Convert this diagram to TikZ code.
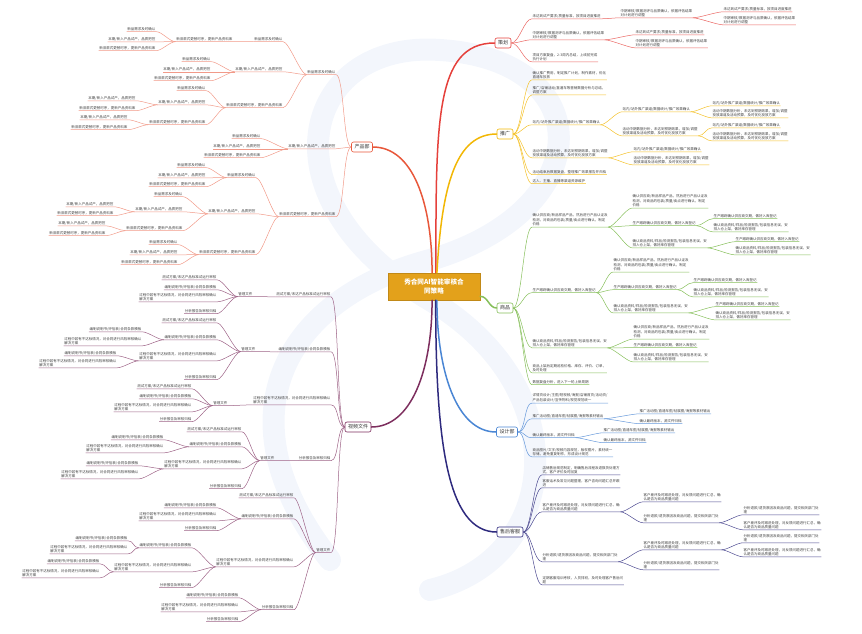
\documentclass[tikz,border=0pt]{standalone}
\usepackage{fontspec}
\setmainfont{Noto Sans CJK SC}
\definecolor{rootgold}{HTML}{E3A11B}
\definecolor{planred}{HTML}{E5403B}
\definecolor{promoyellow}{HTML}{F2B705}
\definecolor{goodsgreen}{HTML}{86BF5A}
\definecolor{designblue}{HTML}{4A86D4}
\definecolor{servicenavy}{HTML}{2E2A7E}
\definecolor{prodred}{HTML}{E8573A}
\definecolor{videoplum}{HTML}{7D2E5E}
\definecolor{wmblue}{HTML}{F3F6FC}
\tikzstyle{root}=[fill=rootgold,draw=rootgold!85!black,text=white,font=\fontsize{6.6}{8.4}\selectfont\bfseries,align=center,minimum width=92pt,minimum height=27pt,inner sep=2pt]
\tikzstyle{topic}=[rounded corners=2pt,fill=white,font=\fontsize{5}{6}\selectfont,text=black!80,inner xsep=3pt,inner ysep=2pt,minimum height=10pt,line width=0.6pt]
\tikzstyle{leaf}=[font=\fontsize{3.5}{4.4}\selectfont,text=black!75,align=left,inner xsep=0.5pt,inner ysep=0.8pt]
\tikzstyle{rleaf}=[leaf,anchor=west]
\tikzstyle{lleaf}=[leaf,anchor=east]
\tikzstyle{mainline}=[line width=1.5pt,line cap=round]
\tikzstyle{planline}=[draw=planred!80,line width=0.5pt]
\tikzstyle{promoline}=[draw=promoyellow!85,line width=0.5pt]
\tikzstyle{goodsline}=[draw=goodsgreen,line width=0.5pt]
\tikzstyle{designline}=[draw=designblue!85,line width=0.5pt]
\tikzstyle{serviceline}=[draw=servicenavy!85,line width=0.5pt]
\tikzstyle{prodline}=[draw=prodred!60,line width=0.5pt]
\tikzstyle{videoline}=[draw=videoplum!75,line width=0.5pt]
\tikzstyle{wm}=[draw=wmblue,line width=22pt,line cap=round]

\begin{document}
\begin{tikzpicture}[x=1pt,y=-1pt]
    \useasboundingbox (0,0) rectangle (862,633);
    % watermark
    \draw[wm] (330,560) .. controls (220,420) and (280,300) .. (430,260) .. controls (600,210) and (600,60) .. (440,50) .. controls (300,40) and (260,200) .. (430,300) .. controls (580,390) and (560,560) .. (430,590);

    \node[root] (root) at (434,286.5) {秀合同AI智能审核合\\同策略};
    \node[topic,draw=planred] (plan) at (503,43) {策划};
    \node[topic,draw=promoyellow] (promo) at (505,134) {推广};
    \node[topic,draw=goodsgreen] (goods) at (505,308) {商品};
    \node[topic,draw=designblue] (design) at (507,432) {设计部};
    \node[topic,draw=servicenavy] (service) at (510,532) {售后客服};
    \node[topic,draw=prodred] (prod) at (362,147) {产品部};
    \node[topic,draw=videoplum] (video) at (358,427) {视频文件};

    \draw[mainline,planred] (root.82) .. controls +(0,-150) and +(-60,0) .. (plan.west);
    \draw[mainline,promoyellow] (root.78) .. controls +(5,-90) and +(-40,0) .. (promo.west);
    \draw[mainline,prodred] (root.98) .. controls +(0,-70) and +(40,0) .. (prod.east);
    \draw[mainline,goodsgreen] (root.-12) .. controls +(8,0) and +(-8,0) .. (goods.west);
    \draw[mainline,designblue] (root.-78) .. controls +(0,70) and +(-40,0) .. (design.west);
    \draw[mainline,servicenavy] (root.-83) .. controls +(0,140) and +(-50,0) .. (service.west);
    \draw[mainline,videoplum] (root.-98) .. controls +(0,70) and +(40,0) .. (video.east);

    % 策划
    \node[rleaf] (plan1) at (532,16) {未达到试产要求/质量标准，按项目进度推进};
    \node[rleaf] (plan11) at (620,13) {中期审核/数据测评与品质确认，依据评估结果\\对计划进行调整};
    \node[rleaf] (plan111) at (723,9) {未达到试产要求/质量标准，按项目进度推进};
    \node[rleaf] (plan112) at (723,20) {中期审核/数据测评与品质确认，依据评估结果\\对计划进行调整};
    \node[rleaf] (plan2) at (532,35) {中期审核/数据测评与品质确认，依据评估结果\\对计划进行调整};
    \node[rleaf] (plan21) at (635,32) {未达到试产要求/质量标准，按项目进度推进};
    \node[rleaf] (plan22) at (635,43) {中期审核/数据测评与品质确认，依据评估结果\\对计划进行调整};
    \node[rleaf] (plan3) at (532,57) {项目方案复盘，2-3周内总结，上线前完成\\执行计划};

    % 推广
    \node[rleaf] (promo1) at (532,75) {确认推广费用，制定推广计划，制作素材，优化\\直通车投放};
    \node[rleaf] (promo2) at (532,90) {推广/店铺活动/直通车等营销数据分析与总结，\\调整方案};
    \node[rleaf] (promo3) at (532,122) {站内/站外推广渠道/数据统计/推广效果确认};
    \node[rleaf] (promo31) at (622,109) {站内/站外推广渠道/数据统计/推广效果确认};
    \node[rleaf] (promo311) at (712,103) {站内/站外推广渠道/数据统计/推广效果确认};
    \node[rleaf] (promo312) at (712,113) {活动中期数据分析，未达到预期效果，增加/调整\\投放渠道及活动预算，及时优化投放方案};
    \node[rleaf] (promo32) at (622,131) {活动中期数据分析，未达到预期效果，增加/调整\\投放渠道及活动预算，及时优化投放方案};
    \node[rleaf] (promo321) at (712,125) {站内/站外推广渠道/数据统计/推广效果确认};
    \node[rleaf] (promo322) at (712,136) {活动中期数据分析，未达到预期效果，增加/调整\\投放渠道及活动预算，及时优化投放方案};
    \node[rleaf] (promo4) at (532,153) {活动中期数据分析，未达到预期效果，增加/调整\\投放渠道及活动预算，及时优化投放方案};
    \node[rleaf] (promo41) at (633,149) {站内/站外推广渠道/数据统计/推广效果确认};
    \node[rleaf] (promo42) at (633,160) {活动中期数据分析，未达到预期效果，增加/调整\\投放渠道及活动预算，及时优化投放方案};
    \node[rleaf] (promo5) at (532,172) {活动结束后数据复盘，整理推广效果报告并归档};
    \node[rleaf] (promo6) at (532,181) {达人、主播、直播等渠道资源维护};

    % 商品
    \node[rleaf] (goods1) at (532,220) {确认供应商/新品样品产品，然后进行产品认证及\\检测，对商品的包装/质量/卖点进行确认，制定\\价格};
    \node[rleaf] (goods11) at (632,201) {确认供应商/新品样品产品，然后进行产品认证及\\检测，对商品的包装/质量/卖点进行确认，制定\\价格};
    \node[rleaf] (goods12) at (632,223) {生产跟踪确认供应商交期，做好入库登记};
    \node[rleaf] (goods121) at (713,216) {生产跟踪确认供应商交期，做好入库登记};
    \node[rleaf] (goods122) at (713,227) {确认商品资料/样品/检测报告/包装信息无误，安\\排入仓上架，做好库存管理};
    \node[rleaf] (goods13) at (632,243) {确认商品资料/样品/检测报告/包装信息无误，安\\排入仓上架，做好库存管理};
    \node[rleaf] (goods131) at (735,239) {生产跟踪确认供应商交期，做好入库登记};
    \node[rleaf] (goods132) at (735,250) {确认商品资料/样品/检测报告/包装信息无误，安\\排入仓上架，做好库存管理};
    \node[rleaf] (goods2) at (532,290) {生产跟踪确认供应商交期，做好入库登记};
    \node[rleaf] (goods21) at (613,265) {确认供应商/新品样品产品，然后进行产品认证及\\检测，对商品的包装/质量/卖点进行确认，制定\\价格};
    \node[rleaf] (goods22) at (613,287) {生产跟踪确认供应商交期，做好入库登记};
    \node[rleaf] (goods221) at (693,280) {生产跟踪确认供应商交期，做好入库登记};
    \node[rleaf] (goods222) at (693,292) {确认商品资料/样品/检测报告/包装信息无误，安\\排入仓上架，做好库存管理};
    \node[rleaf] (goods23) at (613,308) {确认商品资料/样品/检测报告/包装信息无误，安\\排入仓上架，做好库存管理};
    \node[rleaf] (goods231) at (715,304) {生产跟踪确认供应商交期，做好入库登记};
    \node[rleaf] (goods232) at (715,315) {确认商品资料/样品/检测报告/包装信息无误，安\\排入仓上架，做好库存管理};
    \node[rleaf] (goods3) at (532,343) {确认商品资料/样品/检测报告/包装信息无误，安\\排入仓上架，做好库存管理};
    \node[rleaf] (goods31) at (633,332) {确认供应商/新品样品产品，然后进行产品认证及\\检测，对商品的包装/质量/卖点进行确认，制定\\价格};
    \node[rleaf] (goods32) at (633,345) {生产跟踪确认供应商交期，做好入库登记};
    \node[rleaf] (goods33) at (633,357) {确认商品资料/样品/检测报告/包装信息无误，安\\排入仓上架，做好库存管理};
    \node[rleaf] (goods4) at (532,368) {商品上架后定期巡检价格、库存、评价、订单，\\及时处理};
    \node[rleaf] (goods5) at (532,382) {数据复盘分析，进入下一轮上新周期};

    % 设计部
    \node[rleaf] (design1) at (532,398) {详情页设计/主图/短视频/海报/店铺首页/活动页/\\产品包装设计/宣传物料/视觉规范统一};
    \node[rleaf] (design2) at (532,416) {推广活动图/直通车图/钻展图/海报等素材输出};
    \node[rleaf] (design21) at (639,411) {推广活动图/直通车图/钻展图/海报等素材输出};
    \node[rleaf] (design22) at (639,421) {确认最终版本，源文件归档};
    \node[rleaf] (design3) at (532,435) {确认最终版本，源文件归档};
    \node[rleaf] (design31) at (603,430) {推广活动图/直通车图/钻展图/海报等素材输出};
    \node[rleaf] (design32) at (603,440) {确认最终版本，源文件归档};
    \node[rleaf] (design4) at (532,452) {商品图片/文字/视频内容规范，版权图片，素材统一\\存储，避免重复制作，形成设计规范};

    % 售后客服
    \node[rleaf] (service1) at (542,470) {店铺售后规范制定，明确售后流程及退换货处理方\\式，客户评价及时回复};
    \node[rleaf] (service2) at (542,483) {客服话术及常见问题整理，客户咨询问题汇总并跟\\进};
    \node[rleaf] (service3) at (542,507) {客户差评及时跟进处理，对反馈问题进行汇总，确\\认是否为商品质量问题};
    \node[rleaf] (service31) at (643,497) {客户差评及时跟进处理，对反馈问题进行汇总，确\\认是否为商品质量问题};
    \node[rleaf] (service32) at (643,518) {分析退款/退货原因及商品问题，提交相关部门处\\理};
    \node[rleaf] (service321) at (743,510) {分析退款/退货原因及商品问题，提交相关部门处\\理};
    \node[rleaf] (service322) at (743,525) {客户差评及时跟进处理，对反馈问题进行汇总，确\\认是否为商品质量问题};
    \node[rleaf] (service4) at (542,557) {分析退款/退货原因及商品问题，提交相关部门处\\理};
    \node[rleaf] (service41) at (643,545) {客户差评及时跟进处理，对反馈问题进行汇总，确\\认是否为商品质量问题};
    \node[rleaf] (service411) at (743,538) {分析退款/退货原因及商品问题，提交相关部门处\\理};
    \node[rleaf] (service412) at (743,552) {客户差评及时跟进处理，对反馈问题进行汇总，确\\认是否为商品质量问题};
    \node[rleaf] (service42) at (643,565) {分析退款/退货原因及商品问题，提交相关部门处\\理};
    \node[rleaf] (service5) at (542,580) {定期客服培训考核，人员排班，及时处理客户售后问\\题};

    % 产品部
    \node[lleaf] (prod1) at (336,72) {新品需求及时确认};
    \node[lleaf] (prod11) at (283,39) {新品需求及时确认};
    \node[lleaf] (prod111) at (233,39) {新旧款式更替时序，更新产品资料库};
    \node[lleaf] (prod1111) at (156,29) {新品需求及时确认};
    \node[lleaf] (prod1112) at (156,39) {本期/新入产品试产，品质把控};
    \node[lleaf] (prod1113) at (156,48) {新旧款式更替时序，更新产品资料库};
    \node[lleaf] (prod12) at (283,69) {本期/新入产品试产，品质把控};
    \node[lleaf] (prod121) at (211,59) {新品需求及时确认};
    \node[lleaf] (prod122) at (211,69) {本期/新入产品试产，品质把控};
    \node[lleaf] (prod123) at (211,78) {新旧款式更替时序，更新产品资料库};
    \node[lleaf] (prod13) at (283,105) {新旧款式更替时序，更新产品资料库};
    \node[lleaf] (prod131) at (206,88) {新品需求及时确认};
    \node[lleaf] (prod132) at (206,102) {本期/新入产品试产，品质把控};
    \node[lleaf] (prod1321) at (136,98) {本期/新入产品试产，品质把控};
    \node[lleaf] (prod1322) at (136,108) {新旧款式更替时序，更新产品资料库};
    \node[lleaf] (prod133) at (206,122) {新旧款式更替时序，更新产品资料库};
    \node[lleaf] (prod1331) at (128,117) {本期/新入产品试产，品质把控};
    \node[lleaf] (prod1332) at (128,127) {新旧款式更替时序，更新产品资料库};
    \node[lleaf] (prod2) at (336,146) {本期/新入产品试产，品质把控};
    \node[lleaf] (prod21) at (261,136) {新品需求及时确认};
    \node[lleaf] (prod22) at (261,146) {本期/新入产品试产，品质把控};
    \node[lleaf] (prod23) at (261,155) {新旧款式更替时序，更新产品资料库};
    \node[lleaf] (prod3) at (336,214) {新旧款式更替时序，更新产品资料库};
    \node[lleaf] (prod31) at (256,175) {新品需求及时确认};
    \node[lleaf] (prod311) at (206,165) {新品需求及时确认};
    \node[lleaf] (prod312) at (206,175) {本期/新入产品试产，品质把控};
    \node[lleaf] (prod313) at (206,184) {新旧款式更替时序，更新产品资料库};
    \node[lleaf] (prod32) at (256,211) {本期/新入产品试产，品质把控};
    \node[lleaf] (prod321) at (183,194) {新品需求及时确认};
    \node[lleaf] (prod322) at (183,209) {本期/新入产品试产，品质把控};
    \node[lleaf] (prod3221) at (114,204) {本期/新入产品试产，品质把控};
    \node[lleaf] (prod3222) at (114,213) {新旧款式更替时序，更新产品资料库};
    \node[lleaf] (prod323) at (183,228) {新旧款式更替时序，更新产品资料库};
    \node[lleaf] (prod3231) at (106,223) {本期/新入产品试产，品质把控};
    \node[lleaf] (prod3232) at (106,233) {新旧款式更替时序，更新产品资料库};
    \node[lleaf] (prod33) at (256,252) {新旧款式更替时序，更新产品资料库};
    \node[lleaf] (prod331) at (178,242) {新品需求及时确认};
    \node[lleaf] (prod332) at (178,252) {本期/新入产品试产，品质把控};
    \node[lleaf] (prod333) at (178,262) {新旧款式更替时序，更新产品资料库};

    % 视频文件
    \node[lleaf] (video1) at (331,294) {测试方案/未达产品标准试运行审核};
    \node[lleaf] (video11) at (253,294) {管理文件};
    \node[lleaf] (video111) at (217,277) {测试方案/未达产品标准试运行审核};
    \node[lleaf] (video112) at (217,287) {编制说明书/评估表/合同条款模板};
    \node[lleaf] (video113) at (217,297) {过程中若有不达标情况，对合同进行风险审核确认\\解决方案};
    \node[lleaf] (video114) at (217,311) {分析报告及审核归档};
    \node[lleaf] (video2) at (331,349) {编制说明书/评估表/合同条款模板};
    \node[lleaf] (video21) at (256,349) {管理文件};
    \node[lleaf] (video211) at (217,320) {测试方案/未达产品标准试运行审核};
    \node[lleaf] (video212) at (217,337) {编制说明书/评估表/合同条款模板};
    \node[lleaf] (video2121) at (142,329) {编制说明书/评估表/合同条款模板};
    \node[lleaf] (video2122) at (142,341) {过程中若有不达标情况，对合同进行风险审核确认\\解决方案};
    \node[lleaf] (video213) at (217,356) {过程中若有不达标情况，对合同进行风险审核确认\\解决方案};
    \node[lleaf] (video2131) at (117,353) {编制说明书/评估表/合同条款模板};
    \node[lleaf] (video2132) at (117,363) {过程中若有不达标情况，对合同进行风险审核确认\\解决方案};
    \node[lleaf] (video214) at (217,377) {分析报告及审核归档};
    \node[lleaf] (video3) at (331,400) {过程中若有不达标情况，对合同进行风险审核确认\\解决方案};
    \node[lleaf] (video31) at (228,403) {管理文件};
    \node[lleaf] (video311) at (192,386) {测试方案/未达产品标准试运行审核};
    \node[lleaf] (video312) at (192,396) {编制说明书/评估表/合同条款模板};
    \node[lleaf] (video313) at (192,407) {过程中若有不达标情况，对合同进行风险审核确认\\解决方案};
    \node[lleaf] (video314) at (192,419) {分析报告及审核归档};
    \node[lleaf] (video4) at (331,458) {分析报告及审核归档};
    \node[lleaf] (video41) at (275,458) {管理文件};
    \node[lleaf] (video411) at (242,429) {测试方案/未达产品标准试运行审核};
    \node[lleaf] (video412) at (242,444) {编制说明书/评估表/合同条款模板};
    \node[lleaf] (video4121) at (164,437) {编制说明书/评估表/合同条款模板};
    \node[lleaf] (video4122) at (164,448) {过程中若有不达标情况，对合同进行风险审核确认\\解决方案};
    \node[lleaf] (video413) at (242,464) {过程中若有不达标情况，对合同进行风险审核确认\\解决方案};
    \node[lleaf] (video4131) at (139,463) {编制说明书/评估表/合同条款模板};
    \node[lleaf] (video4132) at (139,474) {过程中若有不达标情况，对合同进行风险审核确认\\解决方案};
    \node[lleaf] (video414) at (242,486) {分析报告及审核归档};
    \node[lleaf] (video5) at (331,550) {管理文件};
    \node[lleaf] (video51) at (294,495) {测试方案/未达产品标准试运行审核};
    \node[lleaf] (video52) at (294,516) {编制说明书/评估表/合同条款模板};
    \node[lleaf] (video521) at (217,505) {编制说明书/评估表/合同条款模板};
    \node[lleaf] (video522) at (217,516) {过程中若有不达标情况，对合同进行风险审核确认\\解决方案};
    \node[lleaf] (video523) at (217,528) {分析报告及审核归档};
    \node[lleaf] (video53) at (294,562) {过程中若有不达标情况，对合同进行风险审核确认\\解决方案};
    \node[lleaf] (video531) at (192,545) {编制说明书/评估表/合同条款模板};
    \node[lleaf] (video5311) at (128,538) {编制说明书/评估表/合同条款模板};
    \node[lleaf] (video5312) at (128,549) {过程中若有不达标情况，对合同进行风险审核确认\\解决方案};
    \node[lleaf] (video532) at (192,567) {过程中若有不达标情况，对合同进行风险审核确认\\解决方案};
    \node[lleaf] (video5321) at (100,561) {编制说明书/评估表/合同条款模板};
    \node[lleaf] (video5322) at (100,573) {过程中若有不达标情况，对合同进行风险审核确认\\解决方案};
    \node[lleaf] (video533) at (192,585) {分析报告及审核归档};
    \node[lleaf] (video54) at (294,607) {分析报告及审核归档};
    \node[lleaf] (video541) at (239,595) {编制说明书/评估表/合同条款模板};
    \node[lleaf] (video542) at (239,607) {过程中若有不达标情况，对合同进行风险审核确认\\解决方案};
    \node[lleaf] (video543) at (239,619) {分析报告及审核归档};

    % connectors, right side
    \foreach \to in {plan1,plan2,plan3}
    \draw[planline] (plan.east) .. controls +(8,0) and +(-8,0) .. (\to.south west) -- (\to.south east);
    \foreach \from/\to in {plan1/plan11,plan11/plan111,plan11/plan112,plan2/plan21,plan2/plan22}
    \draw[planline] (\from.south east) .. controls +(6,0) and +(-6,0) .. (\to.south west) -- (\to.south east);

    \foreach \to in {promo1,promo2,promo3,promo4,promo5,promo6}
    \draw[promoline] (promo.east) .. controls +(8,0) and +(-8,0) .. (\to.south west) -- (\to.south east);
    \foreach \from/\to in {promo3/promo31,promo3/promo32,promo31/promo311,promo31/promo312,promo32/promo321,promo32/promo322,promo4/promo41,promo4/promo42}
    \draw[promoline] (\from.south east) .. controls +(6,0) and +(-6,0) .. (\to.south west) -- (\to.south east);

    \foreach \to in {goods1,goods2,goods3,goods4,goods5}
    \draw[goodsline] (goods.east) .. controls +(8,0) and +(-8,0) .. (\to.south west) -- (\to.south east);
    \foreach \from/\to in {goods1/goods11,goods1/goods12,goods1/goods13,goods12/goods121,goods12/goods122,goods13/goods131,goods13/goods132,goods2/goods21,goods2/goods22,goods2/goods23,goods22/goods221,goods22/goods222,goods23/goods231,goods23/goods232,goods3/goods31,goods3/goods32,goods3/goods33}
    \draw[goodsline] (\from.south east) .. controls +(6,0) and +(-6,0) .. (\to.south west) -- (\to.south east);

    \foreach \to in {design1,design2,design3,design4}
    \draw[designline] (design.east) .. controls +(8,0) and +(-8,0) .. (\to.south west) -- (\to.south east);
    \foreach \from/\to in {design2/design21,design2/design22,design3/design31,design3/design32}
    \draw[designline] (\from.south east) .. controls +(6,0) and +(-6,0) .. (\to.south west) -- (\to.south east);

    \foreach \to in {service1,service2,service3,service4,service5}
    \draw[serviceline] (service.east) .. controls +(8,0) and +(-8,0) .. (\to.south west) -- (\to.south east);
    \foreach \from/\to in {service3/service31,service3/service32,service32/service321,service32/service322,service4/service41,service4/service42,service41/service411,service41/service412}
    \draw[serviceline] (\from.south east) .. controls +(6,0) and +(-6,0) .. (\to.south west) -- (\to.south east);

    % connectors, left side
    \foreach \to in {prod1,prod2,prod3}
    \draw[prodline] (prod.west) .. controls +(-8,0) and +(8,0) .. (\to.south east) -- (\to.south west);
    \foreach \from/\to in {prod1/prod11,prod1/prod12,prod1/prod13,prod11/prod111,prod111/prod1111,prod111/prod1112,prod111/prod1113,prod12/prod121,prod12/prod122,prod12/prod123,prod13/prod131,prod13/prod132,prod13/prod133,prod132/prod1321,prod132/prod1322,prod133/prod1331,prod133/prod1332,prod2/prod21,prod2/prod22,prod2/prod23,prod3/prod31,prod3/prod32,prod3/prod33,prod31/prod311,prod31/prod312,prod31/prod313,prod32/prod321,prod32/prod322,prod32/prod323,prod322/prod3221,prod322/prod3222,prod323/prod3231,prod323/prod3232,prod33/prod331,prod33/prod332,prod33/prod333}
    \draw[prodline] (\from.south west) .. controls +(-6,0) and +(6,0) .. (\to.south east) -- (\to.south west);

    \foreach \to in {video1,video2,video3,video4,video5}
    \draw[videoline] (video.west) .. controls +(-8,0) and +(8,0) .. (\to.south east) -- (\to.south west);
    \foreach \from/\to in {video1/video11,video11/video111,video11/video112,video11/video113,video11/video114,video2/video21,video21/video211,video21/video212,video21/video213,video21/video214,video212/video2121,video212/video2122,video213/video2131,video213/video2132,video3/video31,video31/video311,video31/video312,video31/video313,video31/video314,video4/video41,video41/video411,video41/video412,video41/video413,video41/video414,video412/video4121,video412/video4122,video413/video4131,video413/video4132,video5/video51,video5/video52,video5/video53,video5/video54,video52/video521,video52/video522,video52/video523,video53/video531,video53/video532,video53/video533,video531/video5311,video531/video5312,video532/video5321,video532/video5322,video54/video541,video54/video542,video54/video543}
    \draw[videoline] (\from.south west) .. controls +(-6,0) and +(6,0) .. (\to.south east) -- (\to.south west);
\end{tikzpicture}
\end{document}
